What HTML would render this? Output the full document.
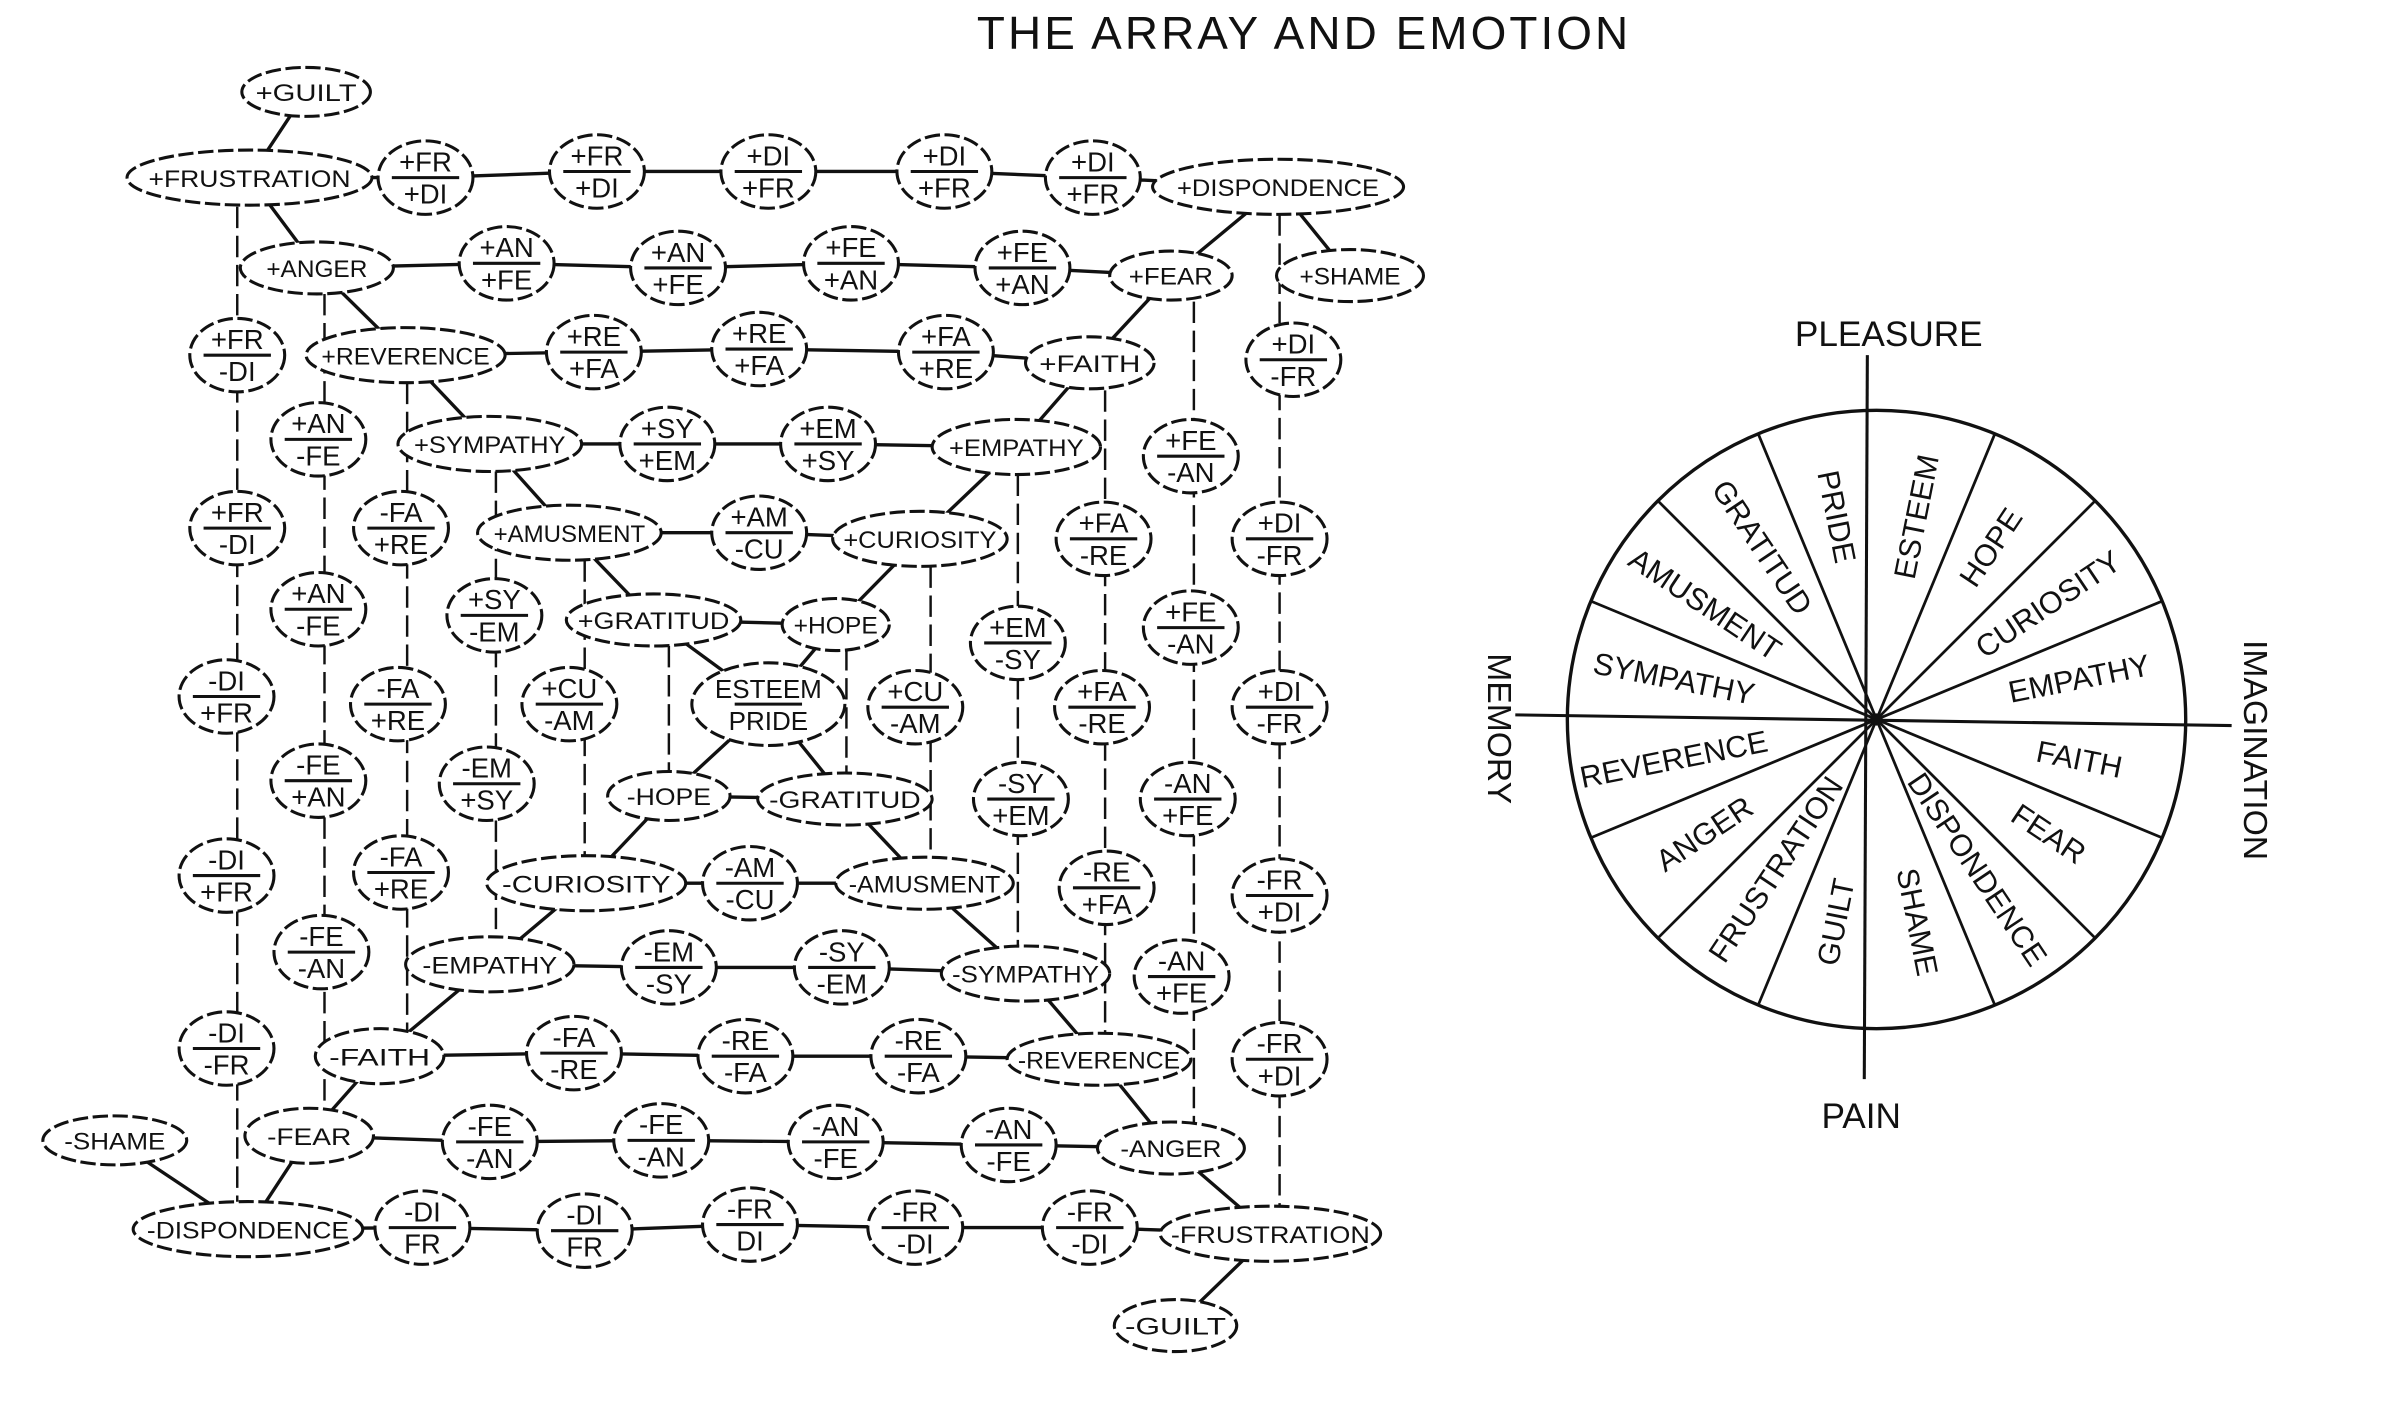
<!DOCTYPE html>
<html><head><meta charset="utf-8">
<style>
html,body{margin:0;padding:0;background:#fff;}
svg{display:block}
text{font-family:"Liberation Sans",sans-serif;fill:#111;}
</style></head>
<body>
<svg id="s" xmlns="http://www.w3.org/2000/svg" width="2400" height="1419" viewBox="0 0 1568 927">
<rect width="1568" height="927" fill="#fff"/>
<text x="852" y="32" font-size="30" text-anchor="middle" letter-spacing="2">THE ARRAY AND EMOTION</text>
<g id="edges" stroke="#111" stroke-width="2.2" fill="none"></g>
<g id="nodes"></g>
<g id="wheel"></g>
</svg>
<script>
var NS="http://www.w3.org/2000/svg";
function el(t,a,p,txt){var e=document.createElementNS(NS,t);for(var k in a)e.setAttribute(k,a[k]);if(txt!==undefined)e.textContent=txt;p.appendChild(e);return e;}
var E=document.getElementById('edges'),N=document.getElementById('nodes'),W=document.getElementById('wheel');
var nodes={
g1:[200,60,"+GUILT",42,16],
fr1:[163,116,"+FRUSTRATION",80,18],a1:[278,116,"+FR/+DI"],a2:[390,112,"+FR/+DI"],a3:[502,112,"+DI/+FR"],a4:[617,112,"+DI/+FR"],a5:[714,116,"+DI/+FR"],di1:[835,122,"+DISPONDENCE",82,18],
an1:[207,175,"+ANGER",50,17],b1:[331,172,"+AN/+FE"],b2:[443,175,"+AN/+FE"],b3:[556,172,"+FE/+AN"],b4:[668,175,"+FE/+AN"],fe1:[765,180,"+FEAR",40,16],sh1:[882,180,"+SHAME",48,17],
c0:[155,232,"+FR/-DI"],re1:[265,232,"+REVERENCE",65,18],c1:[388,230,"+RE/+FA"],c2:[496,228,"+RE/+FA"],c3:[618,230,"+FA/+RE"],fa1:[712,237,"+FAITH",42,17],c4:[845,235,"+DI/-FR"],
d0:[208,287,"+AN/-FE"],sy1:[320,290,"+SYMPATHY",60,18],d1:[436,290,"+SY/+EM"],d2:[541,290,"+EM/+SY"],em1:[664,292,"+EMPATHY",55,18],d3:[778,298,"+FE/-AN"],
e0:[155,345,"+FR/-DI"],e1:[262,345,"-FA/+RE"],am1:[372,348,"+AMUSMENT",60,18],e2:[496,348,"+AM/-CU"],cu1:[601,352,"+CURIOSITY",57,18],e3:[721,352,"+FA/-RE"],e4:[836,352,"+DI/-FR"],
f0:[208,398,"+AN/-FE"],f1:[323,402,"+SY/-EM"],gr1:[427,405,"+GRATITUD",57,17],ho1:[546,408,"+HOPE",35,17],f2:[665,420,"+EM/-SY"],f3:[778,410,"+FE/-AN"],
h0:[148,455,"-DI/+FR"],h1:[260,460,"-FA/+RE"],h2:[372,460,"+CU/-AM"],es:[502,460,"ESTEEM/PRIDE",50,27],h3:[598,462,"+CU/-AM"],h4:[720,462,"+FA/-RE"],h5:[836,462,"+DI/-FR"],
i0:[208,510,"-FE/+AN"],i1:[318,512,"-EM/+SY"],ho2:[437,520,"-HOPE",40,16],gr2:[552,522,"-GRATITUD",57,17],i2:[667,522,"-SY/+EM"],i3:[776,522,"-AN/+FE"],
j0:[148,572,"-DI/+FR"],j1:[262,570,"-FA/+RE"],cu2:[383,577,"-CURIOSITY",65,18],j2:[490,577,"-AM/-CU"],am2:[604,577,"-AMUSMENT",58,17],j3:[723,580,"-RE/+FA"],j4:[836,585,"-FR/+DI"],
k0:[210,622,"-FE/-AN"],em2:[320,630,"-EMPATHY",55,18],k1:[437,632,"-EM/-SY"],k2:[550,632,"-SY/-EM"],sy2:[670,636,"-SYMPATHY",55,18],k3:[772,638,"-AN/+FE"],
l0:[148,685,"-DI/-FR"],fa2:[248,690,"-FAITH",42,18],l1:[375,688,"-FA/-RE"],l2:[487,690,"-RE/-FA"],l3:[600,690,"-RE/-FA"],re2:[718,692,"-REVERENCE",60,17],l4:[836,692,"-FR/+DI"],
sh2:[75,745,"-SHAME",47,16],fe2:[202,742,"-FEAR",42,18],m1:[320,746,"-FE/-AN"],m2:[432,745,"-FE/-AN"],m3:[546,746,"-AN/-FE"],m4:[659,748,"-AN/-FE"],an2:[765,750,"-ANGER",48,17],
di2:[162,803,"-DISPONDENCE",75,18],n1:[276,802,"-DI/FR"],n2:[382,804,"-DI/FR"],n3:[490,800,"-FR/DI"],n4:[598,802,"-FR/-DI"],n5:[712,802,"-FR/-DI"],fr2:[830,806,"-FRUSTRATION",72,18],
g2:[768,866,"-GUILT",40,17]};
var rows=[["fr1","a1","a2","a3","a4","a5","di1"],["an1","b1","b2","b3","b4","fe1"],["re1","c1","c2","c3","fa1"],["sy1","d1","d2","em1"],["am1","e2","cu1"],["gr1","ho1"],
["ho2","gr2"],["cu2","j2","am2"],["em2","k1","k2","sy2"],["fa2","l1","l2","l3","re2"],["fe2","m1","m2","m3","m4","an2"],["di2","n1","n2","n3","n4","n5","fr2"]];
var diag=[["g1","fr1"],["fr1","an1"],["an1","re1"],["re1","sy1"],["sy1","am1"],["am1","gr1"],["gr1","es"],["ho1","es"],["cu1","ho1"],["em1","cu1"],["fa1","em1"],["fe1","fa1"],["di1","fe1"],["di1","sh1"],
["es","ho2"],["es","gr2"],["ho2","cu2"],["cu2","em2"],["em2","fa2"],["fa2","fe2"],["fe2","di2"],["sh2","di2"],["gr2","am2"],["am2","sy2"],["sy2","re2"],["re2","an2"],["an2","fr2"],["fr2","g2"]];
rows.forEach(function(r){for(var i=0;i<r.length-1;i++){var a=nodes[r[i]],b=nodes[r[i+1]];el('line',{x1:a[0],y1:a[1],x2:b[0],y2:b[1]},E);}});
diag.forEach(function(d){var a=nodes[d[0]],b=nodes[d[1]];el('line',{x1:a[0],y1:a[1],x2:b[0],y2:b[1]},E);});
var vcols=[[155,135,790],[212,192,725],[266,250,675],[324,308,615],[382,366,560],[437,422,505],[553,424,505],[608,370,560],[665,310,620],[722,255,675],[780,197,735],[836,140,790]];
vcols.forEach(function(v){el('line',{x1:v[0],y1:v[1],x2:v[0],y2:v[2],'stroke-dasharray':'14 5','stroke-width':1.6},E);});
for(var k in nodes){var n=nodes[k],x=n[0],y=n[1],lab=n[2];
 if(lab.indexOf('/')>=0){var p=lab.split('/');var rx=n[3]||31,ry=n[4]||24;
  el('ellipse',{cx:x,cy:y,rx:rx,ry:ry,fill:'#fff',stroke:'#111','stroke-width':2,'stroke-dasharray':'10 3'},N);
  var fs=lab.length>8?17:18;
  el('text',{x:x,y:y-4,'font-size':fs,'text-anchor':'middle'},N,p[0]);
  el('line',{x1:x-22,y1:y,x2:x+22,y2:y,stroke:'#111','stroke-width':2},N);
  el('text',{x:x,y:y+17,'font-size':fs,'text-anchor':'middle'},N,p[1]);
 } else {
  el('ellipse',{cx:x,cy:y,rx:n[3],ry:n[4],fill:'#fff',stroke:'#111','stroke-width':2,'stroke-dasharray':'10 3'},N);
  var t=el('text',{x:x,y:y+6,'font-size':16,'text-anchor':'middle'},N,lab);
  var w=n[3]*2-14;t.setAttribute('textLength',Math.min(w,lab.length*11));t.setAttribute('lengthAdjust','spacingAndGlyphs');
 }}
// wheel
var cx=1226,cy=470,R=202;
el('circle',{cx:cx,cy:cy,r:R,fill:'none',stroke:'#111','stroke-width':2.2},W);
el('line',{x1:1220,y1:232,x2:1218,y2:705,stroke:'#111','stroke-width':2},W);
el('line',{x1:990,y1:467,x2:1458,y2:474,stroke:'#111','stroke-width':2},W);
for(var i=0;i<16;i++){if(i%4==0)continue;var a=i*22.5*Math.PI/180;el('line',{x1:cx,y1:cy,x2:cx+R*Math.sin(a),y2:cy-R*Math.cos(a),stroke:'#111','stroke-width':1.8},W);}
el('circle',{cx:cx,cy:cy,r:4,fill:'#111'},W);
var labs=["ESTEEM","HOPE","CURIOSITY","EMPATHY","FAITH","FEAR","DISPONDENCE","SHAME","GUILT","FRUSTRATION","ANGER","REVERENCE","SYMPATHY","AMUSMENT","GRATITUD","PRIDE"];
labs.forEach(function(l,i){var th=11.25+22.5*i,a=th*Math.PI/180,r=l.length>9?118:135;
 var x=cx+r*Math.sin(a),y=cy-r*Math.cos(a);var rot=th<180?th-90:th+90;
 el('text',{x:x,y:y,'font-size':20,'text-anchor':'middle','dominant-baseline':'central',transform:'rotate('+rot+' '+x+' '+y+')'},W,l);});
el('text',{x:1234,y:226,'font-size':23,'text-anchor':'middle'},W,"PLEASURE");
el('text',{x:1216,y:737,'font-size':23,'text-anchor':'middle'},W,"PAIN");
el('text',{x:0,y:0,'font-size':22,'text-anchor':'middle',transform:'translate(972,476) rotate(90)'},W,"MEMORY");
el('text',{x:0,y:0,'font-size':22,'text-anchor':'middle',transform:'translate(1466,490) rotate(90)'},W,"IMAGINATION");
</script>
</body></html>
